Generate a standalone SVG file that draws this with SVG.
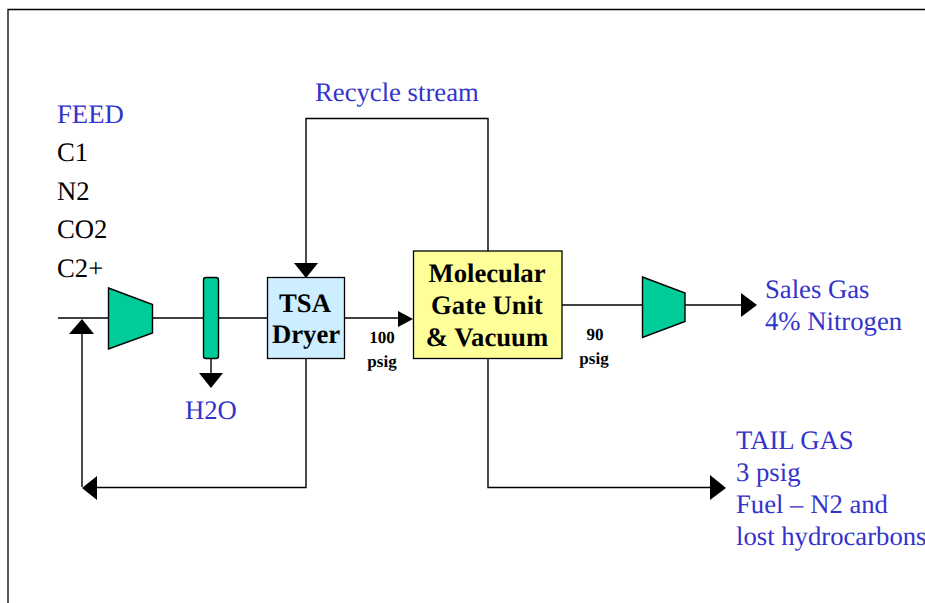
<svg xmlns="http://www.w3.org/2000/svg" width="925" height="603" viewBox="0 0 925 603">
<style>
text{font-family:"Liberation Serif","Times New Roman",serif;text-rendering:geometricPrecision}
.l{font-size:26.700px;fill:#3333cc}
.k{font-size:26.700px;fill:#000}
.b{font-size:26.700px;font-weight:bold;fill:#000;text-anchor:middle}
.s{font-size:17px;font-weight:bold;fill:#000;text-anchor:middle}
.c{fill:none;stroke:#000;stroke-width:1.4}
.a{fill:#000;stroke:none}
.g{fill:#00cc99;stroke:#000;stroke-width:1.4}
</style>
<rect width="925" height="603" fill="#fff"/>
<path d="M8 603V9.500H925" fill="none" stroke="#000" stroke-width="1.300"/>
<g id="connectors">
<path class="c" d="M58 318H267M344 318H400"/>
<path class="c" d="M306 278V118.500H488V251"/>
<path class="c" d="M306 359V487.500H95M82 487V334"/>
<path class="c" d="M488 359V487.500H712"/>
<path class="c" d="M562 305H742"/>
<path class="c" d="M211 358V373"/>
<polygon class="a" points="294,263 318,263 306,278"/>
<polygon class="a" points="69,334 94,334 82,319"/>
<polygon class="a" points="199,373 223,373 211,388"/>
<polygon class="a" points="97,476 97,500 82,488"/>
<polygon class="a" points="398,311 398,327 413,319"/>
<polygon class="a" points="741,293 741,317 757,305"/>
<polygon class="a" points="710,475 710,500 726,488"/>
</g>
<g id="compressor-1"><polygon class="g" points="108.500,288 152.500,304.500 152.500,333 108.500,349"/></g>
<g id="separator"><rect class="g" x="203.500" y="277.500" width="15" height="81" rx="2.500"/></g>
<g id="tsa-dryer">
<rect x="267.500" y="277.500" width="77" height="81" fill="#cceeff" stroke="#000" stroke-width="1.300"/>
<text class="b" x="305" y="312">TSA</text>
<text class="b" x="306" y="343">Dryer</text>
</g>
<g id="molecular-gate">
<rect x="413.500" y="251" width="148.500" height="107.500" fill="#ffff99" stroke="#000" stroke-width="1.300"/>
<text class="b" x="487" y="282">Molecular</text>
<text class="b" x="487" y="314">Gate Unit</text>
<text class="b" x="487" y="346">&amp; Vacuum</text>
</g>
<g id="compressor-2"><polygon class="g" points="642.500,277 685,293 685,321.500 642.500,337.500"/></g>
<g id="labels">
<text class="l" x="315" y="101">Recycle stream</text>
<text class="l" x="57" y="123">FEED</text>
<text class="k" x="57" y="161">C1</text>
<text class="k" x="57" y="200">N2</text>
<text class="k" x="57" y="238">CO2</text>
<text class="k" x="57" y="277">C2+</text>
<text class="l" x="185" y="419">H2O</text>
<text class="s" x="382" y="343">100</text>
<text class="s" x="382" y="367">psig</text>
<text class="s" x="595" y="340">90</text>
<text class="s" x="594" y="364">psig</text>
<text class="l" x="765" y="298">Sales Gas</text>
<text class="l" x="765" y="330">4% Nitrogen</text>
<text class="l" x="736" y="449">TAIL GAS</text>
<text class="l" x="736" y="481">3 psig</text>
<text class="l" x="736" y="513">Fuel – N2 and</text>
<text class="l" x="736" y="545">lost hydrocarbons</text>
</g>
</svg>
